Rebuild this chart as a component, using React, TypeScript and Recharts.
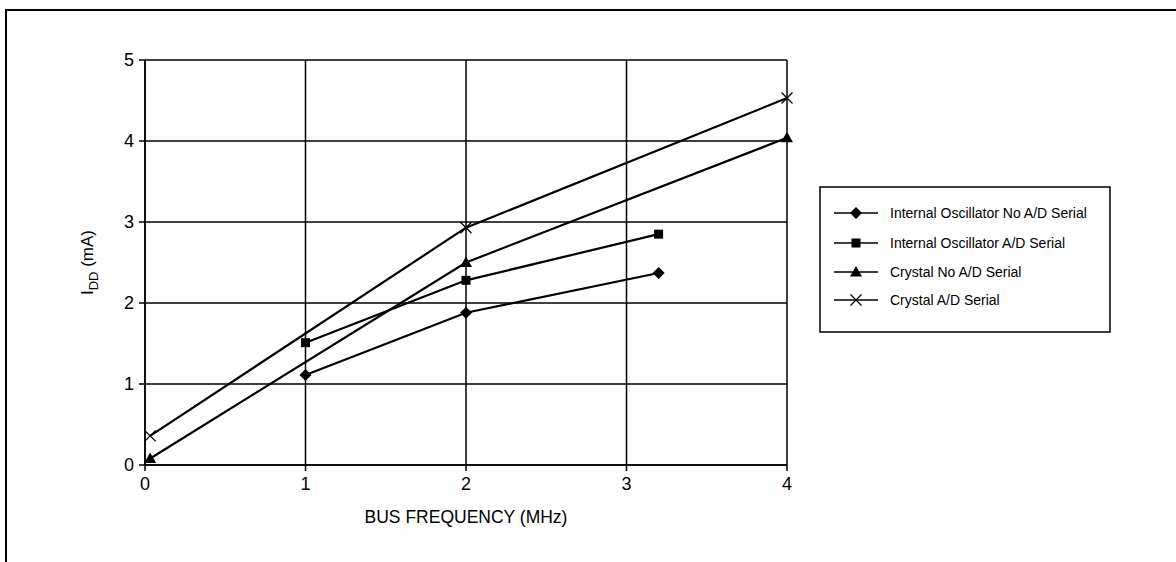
import React from 'react';
import { LineChart, Line, XAxis, YAxis, CartesianGrid } from 'recharts';

const xTicks = [0, 1, 2, 3, 4];
const yTicks = [0, 1, 2, 3, 4, 5];

const intNoAdX = [1, 2, 3.2];
const intNoAdY = [1.11, 1.88, 2.37];
const intAdX = [1, 2, 3.2];
const intAdY = [1.51, 2.28, 2.85];
const xtalNoAdX = [0.032, 2, 4];
const xtalNoAdY = [0.08, 2.5, 4.04];
const xtalAdX = [0.032, 2, 4];
const xtalAdY = [0.36, 2.93, 4.53];

const seriesNames = [
  'Internal Oscillator No A/D Serial',
  'Internal Oscillator A/D Serial',
  'Crystal No A/D Serial',
  'Crystal A/D Serial',
];
const markers = ['diamond', 'square', 'triangle', 'cross'];

const toData = (xs: number[], ys: number[]) => xs.map((x, i) => ({ x, y: ys[i] }));
const seriesData = [
  toData(intNoAdX, intNoAdY),
  toData(intAdX, intAdY),
  toData(xtalNoAdX, xtalNoAdY),
  toData(xtalAdX, xtalAdY),
];

const FONT = '"Liberation Sans", Arial, sans-serif';

function Marker({ kind, cx, cy }: { kind: string; cx: number; cy: number }) {
  if (cx == null || cy == null) return null;
  if (kind === 'diamond') {
    const r = 6;
    return <path d={`M${cx},${cy - r}L${cx + r},${cy}L${cx},${cy + r}L${cx - r},${cy}Z`} fill="#000" />;
  }
  if (kind === 'square') {
    const r = 4.5;
    return <rect x={cx - r} y={cy - r} width={2 * r} height={2 * r} fill="#000" />;
  }
  if (kind === 'triangle') {
    return <path d={`M${cx},${cy - 6}L${cx + 6},${cy + 4.5}L${cx - 6},${cy + 4.5}Z`} fill="#000" />;
  }
  const r = 5.5;
  return (
    <path d={`M${cx - r},${cy - r}L${cx + r},${cy + r}M${cx - r},${cy + r}L${cx + r},${cy - r}`} stroke="#000" strokeWidth={1.3} fill="none" />
  );
}

function LegendBox() {
  const rows = [27, 57, 86, 114];
  return (
    <svg width={292} height={147} style={{ display: 'block' }}>
      <rect x={1} y={1} width={290} height={145} fill="#fff" stroke="#000" strokeWidth={1.5} />
      {seriesNames.map((n, i) => (
        <g key={n}>
          <line x1={15} x2={59} y1={rows[i]} y2={rows[i]} stroke="#000" strokeWidth={1.5} />
          <Marker kind={markers[i]} cx={37} cy={rows[i]} />
          <text x={71} y={rows[i]} dy="0.35em" fontSize={14} fontFamily={FONT} fill="#000">{n}</text>
        </g>
      ))}
    </svg>
  );
}

function YLabel(props: any) {
  const vb = props.viewBox || { x: 0, y: 0, width: 0, height: 0 };
  const cx = 93;
  const cy = vb.y + vb.height / 2;
  return (
    <text transform={`translate(${cx},${cy}) rotate(-90)`} textAnchor="middle" fontSize={17} fontFamily={FONT} fill="#000">
      I<tspan fontSize={13} dy={5}>DD</tspan><tspan dy={-5}> (mA)</tspan>
    </text>
  );
}

export default function App() {
  return (
    <div style={{ position: 'absolute', left: 0, top: 0, width: 1176, height: 562, overflow: 'hidden', background: '#fff' }}>
      <div style={{ position: 'absolute', left: 5, top: 9, width: 1300, height: 700, border: '2px solid #000' }} />
      <div style={{ position: 'absolute', left: 0, top: 0 }}>
        <LineChart width={1176} height={562} margin={{ top: 60, right: 389, bottom: 67, left: 85 }}>
          <CartesianGrid stroke="#000" strokeWidth={1.5} horizontalValues={yTicks} verticalValues={xTicks} />
          <XAxis
            type="number"
            dataKey="x"
            domain={[0, 4]}
            ticks={xTicks}
            height={30}
            stroke="#000"
            strokeWidth={1.5}
            tickSize={6}
            tick={{ fill: '#000', fontSize: 18, fontFamily: FONT, dy: 4 }}
            label={{ value: 'BUS FREQUENCY (MHz)', position: 'insideBottom', offset: -28, fill: '#000', fontSize: 17.5, fontFamily: FONT }}
          />
          <YAxis
            type="number"
            dataKey="y"
            domain={[0, 5]}
            ticks={yTicks}
            width={60}
            stroke="#000"
            strokeWidth={1.5}
            tickSize={6}
            tick={{ fill: '#000', fontSize: 18, fontFamily: FONT, dx: -3 }}
            label={{ content: (p: any) => <YLabel {...p} /> }}
          />
          {seriesData.map((d, i) => (
            <Line
              key={seriesNames[i]}
              data={d}
              dataKey="y"
              name={seriesNames[i]}
              stroke="#000"
              strokeWidth={2.2}
              isAnimationActive={false}
              dot={(p: any) => <Marker key={`${i}-${p.index}`} kind={markers[i]} cx={p.cx} cy={p.cy} />}
              activeDot={false}
            />
          ))}
        </LineChart>
      </div>
      <div style={{ position: 'absolute', left: 819, top: 186 }}>
        <LegendBox />
      </div>
    </div>
  );
}
